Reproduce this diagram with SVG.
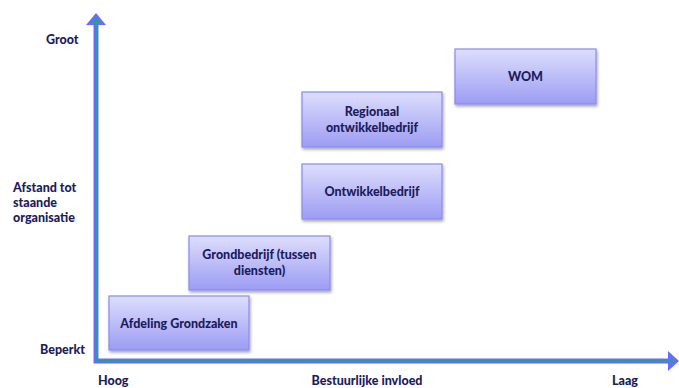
<svg xmlns="http://www.w3.org/2000/svg" width="679" height="388" viewBox="0 0 679 388">
  <defs>
    <linearGradient id="boxFill" x1="0" y1="0" x2="0" y2="1">
      <stop offset="0" stop-color="#dedefd"/>
      <stop offset="1" stop-color="#9c9cf4"/>
    </linearGradient>
    <filter id="shadow" x="-10%" y="-10%" width="125%" height="135%">
      <feGaussianBlur in="SourceAlpha" stdDeviation="1.5"/>
      <feOffset dx="1" dy="2" result="b"/>
      <feComponentTransfer><feFuncA type="linear" slope="0.35"/></feComponentTransfer>
      <feMerge><feMergeNode/><feMergeNode in="SourceGraphic"/></feMerge>
    </filter>
  </defs>
  <style>
    .box { fill: url(#boxFill); stroke: #8a8af2; stroke-width: 1.2; filter: url(#shadow); }
    .lbl { font-family: Lato, "Open Sans", "Liberation Sans", sans-serif; font-weight: 900; font-size: 12.5px; fill: #1c1c5c; }
    .mid { text-anchor: middle; }
    .axOuter { stroke: #6a6aff; stroke-width: 5; fill: none; }
    .axInner { stroke: #2a9c9a; stroke-width: 2; fill: none; }
    .head { fill: #6a6aff; }
  </style>
  <rect width="679" height="388" fill="#ffffff"/>

  <!-- axes -->
  <g id="connectors">
    <path class="axOuter" d="M96 22 V361 H670"/>
    <path class="axInner" d="M96 22 V361 H670"/>
    <polygon class="head" points="96,13 106,25 86,25"/>
    <polygon class="head" points="679,361 668,351 668,371"/>
    <polygon points="96,17 101,23 91,23" fill="#2a9c9a"/>
    <polygon points="675,361 670,358 670,364" fill="#2a9c9a"/>
  </g>

  <!-- axis labels -->
  <g id="axis-labels">
    <text class="lbl" x="46" y="44">Groot</text>
    <text class="lbl" x="13" y="192">Afstand tot</text>
    <text class="lbl" x="13" y="207">staande</text>
    <text class="lbl" x="13" y="222">organisatie</text>
    <text class="lbl" x="40" y="354">Beperkt</text>
    <text class="lbl" x="98" y="385">Hoog</text>
    <text class="lbl mid" x="367" y="385">Bestuurlijke invloed</text>
    <text class="lbl" x="612" y="385">Laag</text>
  </g>

  <g id="afdeling-grondzaken">
    <rect class="box" x="109" y="296" width="140" height="54"/>
    <text class="lbl mid" x="179" y="328">Afdeling Grondzaken</text>
  </g>
  <g id="grondbedrijf">
    <rect class="box" x="189" y="236" width="141" height="54"/>
    <text class="lbl mid" x="259.5" y="259">Grondbedrijf (tussen</text>
    <text class="lbl mid" x="259.5" y="275">diensten)</text>
  </g>
  <g id="ontwikkelbedrijf">
    <rect class="box" x="302" y="164" width="140" height="55"/>
    <text class="lbl mid" x="372" y="196">Ontwikkelbedrijf</text>
  </g>
  <g id="regionaal-ontwikkelbedrijf">
    <rect class="box" x="302" y="92" width="140" height="55"/>
    <text class="lbl mid" x="372" y="116">Regionaal</text>
    <text class="lbl mid" x="372" y="132">ontwikkelbedrijf</text>
  </g>
  <g id="wom">
    <rect class="box" x="455" y="49" width="141" height="55"/>
    <text class="lbl mid" x="525.5" y="81">WOM</text>
  </g>
</svg>
